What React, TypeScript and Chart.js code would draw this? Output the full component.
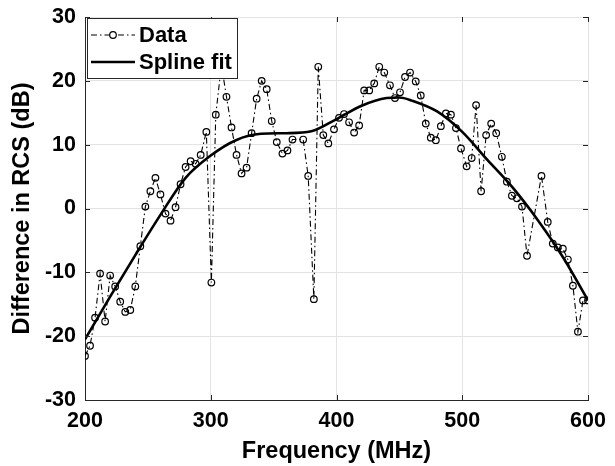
import React, { useEffect, useRef } from "react";
import { Chart, registerables } from "chart.js";

Chart.register(...registerables);

// Measured data (frequency in MHz, RCS difference in dB)
const dataFreq = [
  200, 204, 208, 212, 216, 220, 224, 228, 232, 236, 240, 244, 248, 252, 256, 260, 264, 268, 272, 276,
  280, 284, 288, 292, 296.5, 300.5, 304, 308.5, 312.5, 316.5, 320.5, 324.5, 328.5, 332.5, 336.5, 340.5,
  344.5, 348.5, 352.5, 357, 361, 365, 373.5, 377.5, 382, 385.5, 389.5, 393.5, 398, 402, 406, 410, 414,
  418, 422, 426, 430, 434, 438, 442.5, 446.5, 450.5, 454.5, 458.5, 463, 467, 471, 475, 479, 483, 487,
  491, 495, 499, 503.5, 507.5, 511, 515, 519, 523, 527, 531.5, 535.5, 539.5, 543.5, 547.5, 551.5, 563,
  568, 572, 576, 580, 584, 588, 592, 596, 600,
];
const dataVal = [
  -23.1, -21.5, -17.1, -10.2, -17.7, -10.5, -12.2, -14.6, -16.2, -15.9, -12.2, -5.9, 0.3, 2.7, 4.8, 2.2,
  -0.8, -1.9, 0.2, 3.8, 6.5, 7.4, 7.0, 8.4, 12.0, -11.6, 14.7, 22.5, 17.5, 12.7, 8.4, 5.5, 6.4, 11.8,
  17.2, 20.0, 18.7, 13.7, 10.4, 8.6, 9.1, 10.8, 10.8, 5.1, -14.2, 22.2, 11.5, 10.2, 12.4, 14.2, 14.8,
  13.5, 11.9, 13.0, 18.5, 18.5, 19.6, 22.2, 21.3, 19.3, 17.3, 18.2, 20.6, 21.3, 19.9, 17.7, 13.3, 11.1,
  10.7, 12.9, 14.9, 14.7, 12.6, 9.4, 6.6, 7.9, 16.2, 2.7, 11.5, 13.3, 11.8, 8.1, 4.2, 2.0, 1.6, 0.3,
  -7.4, 5.1, -2.1, -5.5, -6.1, -6.3, -8.0, -12.1, -19.3, -14.4, -14.4,
];

// Spline fit key values
const splineFreq = [200, 220, 240, 260, 280, 300, 320, 340, 360, 380, 400, 420, 440, 450, 460, 480, 500, 520, 540, 560, 580, 600];
const splineVal = [-20.5, -13.8, -7.3, -1.0, 4.8, 8.3, 10.7, 11.7, 11.8, 12.1, 14.0, 16.1, 17.3, 17.4, 16.9, 15.2, 12.0, 7.6, 3.3, -1.8, -7.6, -14.4];

const xTicks = [200, 300, 400, 500, 600];
const yTicks = [-30, -20, -10, 0, 10, 20, 30];
const legendLabels = ["Data", "Spline fit"];

const FONT = "'Liberation Sans', Arial, sans-serif";
const AXIS = "#262626";

const boxPlugin = {
  id: "boxAndTicks",
  afterDatasetsDraw(chart: any) {
    const { ctx, chartArea: a, scales } = chart;
    ctx.save();
    ctx.strokeStyle = AXIS;
    ctx.lineWidth = 1;
    const L = 5;
    ctx.beginPath();
    for (const v of xTicks) {
      const px = Math.round(scales.x.getPixelForValue(v)) + 0.5;
      ctx.moveTo(px, a.bottom);
      ctx.lineTo(px, a.bottom - L);
      ctx.moveTo(px, a.top);
      ctx.lineTo(px, a.top + L);
    }
    for (const v of yTicks) {
      const py = Math.round(scales.y.getPixelForValue(v)) + 0.5;
      ctx.moveTo(a.left, py);
      ctx.lineTo(a.left + L, py);
      ctx.moveTo(a.right, py);
      ctx.lineTo(a.right - L, py);
    }
    ctx.stroke();

    // legend
    const x0 = Math.round(a.left) + 2;
    const y0 = Math.round(a.top) + 1;
    const w = 150;
    const h = 60;
    ctx.fillStyle = "#ffffff";
    ctx.fillRect(x0, y0, w, h);
    ctx.strokeStyle = AXIS;
    ctx.lineWidth = 1;
    ctx.strokeRect(x0 + 0.5, y0 + 0.5, w, h);

    const ds = chart.data.datasets;
    const rows = [y0 + 17, y0 + 44];
    // Data row
    ctx.strokeStyle = "#000";
    ctx.lineWidth = ds[0].borderWidth;
    ctx.setLineDash(ds[0].borderDash);
    ctx.beginPath();
    ctx.moveTo(x0 + 4, rows[0]);
    ctx.lineTo(x0 + 48, rows[0]);
    ctx.stroke();
    ctx.setLineDash([]);
    ctx.fillStyle = "#fff";
    ctx.beginPath();
    ctx.arc(x0 + 26, rows[0], ds[0].pointRadius, 0, Math.PI * 2);
    ctx.fill();
    ctx.lineWidth = ds[0].pointBorderWidth;
    ctx.stroke();
    // Spline row
    ctx.lineWidth = ds[1].borderWidth;
    ctx.beginPath();
    ctx.moveTo(x0 + 4, rows[1]);
    ctx.lineTo(x0 + 48, rows[1]);
    ctx.stroke();

    ctx.fillStyle = "#000";
    ctx.font = `bold 22px ${FONT}`;
    ctx.textBaseline = "middle";
    ctx.textAlign = "left";
    ctx.fillText(legendLabels[0], x0 + 52, rows[0] + 1);
    ctx.fillText(legendLabels[1], x0 + 52, rows[1] + 1);

    ctx.restore();
  },
};

export default function App() {
  const ref = useRef<HTMLCanvasElement>(null);

  useEffect(() => {
    document.body.style.margin = "0";
    const canvas = ref.current!;
    const chart = new Chart(canvas, {
      type: "line",
      data: {
        datasets: [
          {
            label: legendLabels[0],
            data: dataFreq.map((f, i) => ({ x: f, y: dataVal[i] })),
            borderColor: "#000",
            borderWidth: 1.1,
            borderDash: [6, 3, 1.5, 3],
            pointRadius: 3.3,
            pointBorderWidth: 1.2,
            pointBackgroundColor: "rgba(255,255,255,0)",
            pointBorderColor: "#000",
            pointStyle: "circle",
            tension: 0,
            fill: false,
          },
          {
            label: legendLabels[1],
            data: splineFreq.map((f, i) => ({ x: f, y: splineVal[i] })),
            borderColor: "#000",
            borderWidth: 2.6,
            pointRadius: 0,
            cubicInterpolationMode: "monotone",
            fill: false,
          },
        ],
      },
      options: {
        responsive: false,
        animation: false,
        devicePixelRatio: 1,
        layout: { padding: { top: 17, right: 27, left: 0, bottom: 0 } },
        plugins: { legend: { display: false }, tooltip: { enabled: false } },
        scales: {
          x: {
            type: "linear",
            min: 200,
            max: 600,
            afterBuildTicks: (s: any) => {
              s.ticks = xTicks.map((v) => ({ value: v }));
            },
            afterFit: (s: any) => {
              s.height = 66;
              s.paddingLeft = 0;
              s.paddingRight = 0;
            },
            ticks: {
              color: "#000",
              font: { family: FONT, size: 21.5, weight: "bold" },
              padding: 8,
              maxRotation: 0,
            },
            grid: { color: "#e3e3e3", drawTicks: false, lineWidth: 1 },
            border: { display: true, color: AXIS },
            title: {
              display: true,
              text: "Frequency (MHz)",
              color: "#000",
              font: { family: FONT, size: 23.5, weight: "bold" },
              padding: { top: 0, bottom: 0 },
            },
          },
          y: {
            type: "linear",
            min: -30,
            max: 30,
            afterBuildTicks: (s: any) => {
              s.ticks = yTicks.map((v) => ({ value: v }));
            },
            afterFit: (s: any) => {
              s.width = 85;
              s.paddingTop = 0;
              s.paddingBottom = 0;
            },
            ticks: {
              color: "#000",
              font: { family: FONT, size: 21.5, weight: "bold" },
              padding: 9,
            },
            grid: { color: "#e3e3e3", drawTicks: false, lineWidth: 1 },
            border: { display: true, color: AXIS },
            title: {
              display: true,
              text: "Difference in RCS (dB)",
              color: "#000",
              font: { family: FONT, size: 23.5, weight: "bold" },
              padding: { top: 8, bottom: 0 },
            },
          },
        },
      },
      plugins: [boxPlugin],
    });
    return () => chart.destroy();
  }, []);

  return (
    <div style={{ width: 615, height: 466, background: "#fff" }}>
      <canvas ref={ref} width={615} height={466} />
    </div>
  );
}
